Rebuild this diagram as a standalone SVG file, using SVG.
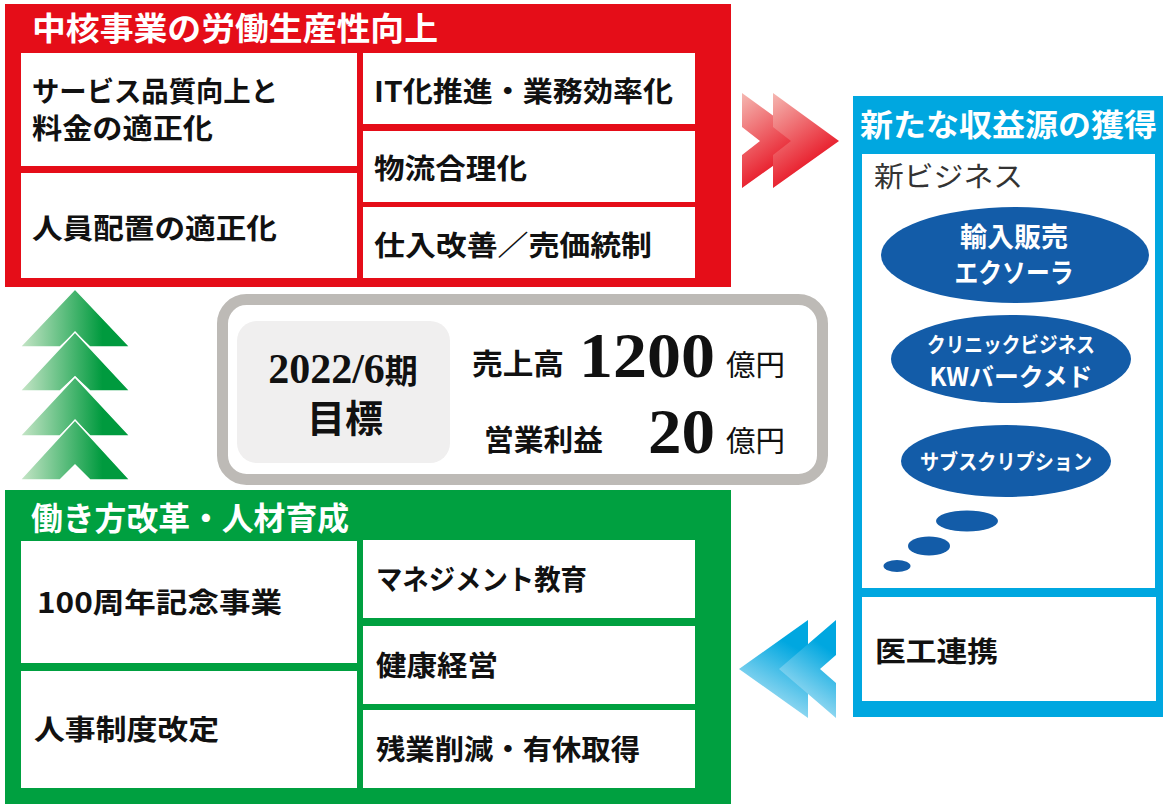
<svg xmlns="http://www.w3.org/2000/svg" width="1163" height="804" viewBox="0 0 1163 804">
<defs>
<linearGradient id="gRed" x1="0" y1="0" x2="0.5" y2="1"><stop offset="0" stop-color="#f5b8b2"/><stop offset="1" stop-color="#e60012"/></linearGradient>
<linearGradient id="gGreen" x1="0" y1="0" x2="1" y2="0"><stop offset="0" stop-color="#c8e6c8"/><stop offset="0.75" stop-color="#009a3e"/></linearGradient>
<linearGradient id="gBlue" x1="0.7" y1="0" x2="0.3" y2="1"><stop offset="0.2" stop-color="#00a7e0"/><stop offset="1" stop-color="#c6e9f7"/></linearGradient>
<style>
.jp{font-family:"Noto Sans CJK JP","Noto Sans",sans-serif;font-weight:700}
.jpr{font-family:"Noto Sans CJK JP","Noto Sans",sans-serif;font-weight:400}
.ser{font-family:"Liberation Serif",serif;font-weight:700}
.cell{fill:#fff}
.t{font-size:28px;fill:#111}
.ttl{font-size:32px;fill:#fff}
.ell{fill:#135ca8}
.et{fill:#fff;text-anchor:middle}
</style>
</defs>
<rect width="1163" height="804" fill="#fff"/>

<g id="core">
<rect x="5" y="4" width="726" height="283" fill="#e50d18"/>
<text class="jp ttl" x="32" y="40" font-size="33" textLength="406" lengthAdjust="spacingAndGlyphs">中核事業の労働生産性向上</text>
<g id="core-service"><rect class="cell" x="21" y="53" width="336" height="113"/>
<text class="jp t" x="32" y="102" font-size="27" textLength="246" lengthAdjust="spacingAndGlyphs">サービス品質向上と</text>
<text class="jp t" x="32" y="139" font-size="27" textLength="181" lengthAdjust="spacingAndGlyphs">料金の適正化</text></g>
<g id="core-staff"><rect class="cell" x="21" y="173" width="336" height="105"/>
<text class="jp t" x="32" y="239" textLength="245" lengthAdjust="spacingAndGlyphs">人員配置の適正化</text></g>
<g id="core-it"><rect class="cell" x="363" y="53" width="332" height="71"/>
<text class="jp t" x="374" y="102" textLength="299" lengthAdjust="spacingAndGlyphs">IT化推進・業務効率化</text></g>
<g id="core-logi"><rect class="cell" x="363" y="131" width="332" height="71"/>
<text class="jp t" x="374" y="179" textLength="153" lengthAdjust="spacingAndGlyphs">物流合理化</text></g>
<g id="core-purchase"><rect class="cell" x="363" y="207" width="332" height="71"/>
<text class="jp t" x="374" y="256" textLength="278" lengthAdjust="spacingAndGlyphs">仕入改善／売価統制</text></g>
</g>

<g id="work">
<rect x="5" y="490" width="726" height="314" fill="#00a040"/>
<text class="jp ttl" x="31" y="530" textLength="318" lengthAdjust="spacingAndGlyphs">働き方改革・人材育成</text>
<g id="work-100"><rect class="cell" x="21" y="541" width="336" height="122"/>
<text class="jp t" x="37" y="613" textLength="245" lengthAdjust="spacingAndGlyphs">100周年記念事業</text></g>
<g id="work-hr"><rect class="cell" x="21" y="671" width="336" height="117"/>
<text class="jp t" x="34" y="740" textLength="185" lengthAdjust="spacingAndGlyphs">人事制度改定</text></g>
<g id="work-mgmt"><rect class="cell" x="363" y="540" width="332" height="78"/>
<text class="jp t" x="376" y="590" textLength="211" lengthAdjust="spacingAndGlyphs">マネジメント教育</text></g>
<g id="work-health"><rect class="cell" x="363" y="626" width="332" height="78"/>
<text class="jp t" x="376" y="676" textLength="122" lengthAdjust="spacingAndGlyphs">健康経営</text></g>
<g id="work-overtime"><rect class="cell" x="363" y="710" width="332" height="78"/>
<text class="jp t" x="376" y="760" textLength="264" lengthAdjust="spacingAndGlyphs">残業削減・有休取得</text></g>
</g>

<g id="new-revenue">
<rect x="853" y="96" width="310" height="621" fill="#00a7e0"/>
<text class="jp" x="860" y="136" font-size="31" fill="#fff" textLength="297" lengthAdjust="spacingAndGlyphs">新たな収益源の獲得</text>
<rect class="cell" x="862" y="154" width="293" height="434"/>
<text class="jpr" x="874" y="187" font-size="28" fill="#333" textLength="149" lengthAdjust="spacingAndGlyphs">新ビジネス</text>
<g id="biz-import"><ellipse class="ell" cx="1015" cy="255" rx="134" ry="48"/>
<text class="jp et" x="1014" y="247" font-size="27">輸入販売</text>
<text class="jp et" x="1014" y="283" font-size="27" textLength="119" lengthAdjust="spacingAndGlyphs">エクソーラ</text></g>
<g id="biz-clinic"><ellipse class="ell" cx="1011" cy="359" rx="120" ry="44"/>
<text class="jp et" x="1011" y="352" font-size="21" textLength="168" lengthAdjust="spacingAndGlyphs">クリニックビジネス</text>
<text class="jp et" x="1011" y="386" font-size="25" textLength="163" lengthAdjust="spacingAndGlyphs">KWバークメド</text></g>
<g id="biz-sub"><ellipse class="ell" cx="1006" cy="461" rx="105" ry="36"/>
<text class="jp et" x="1006" y="469" font-size="21" textLength="172" lengthAdjust="spacingAndGlyphs">サブスクリプション</text></g>
<ellipse class="ell" cx="967" cy="521" rx="31" ry="10.5"/>
<ellipse class="ell" cx="929" cy="546" rx="21" ry="9.5"/>
<ellipse class="ell" cx="897" cy="566" rx="13.5" ry="6"/>
<g id="med-eng"><rect class="cell" x="862" y="597" width="294" height="104"/>
<text class="jp t" x="875" y="662" font-size="29" textLength="123" lengthAdjust="spacingAndGlyphs">医工連携</text></g>
</g>

<g id="target">
<rect x="222.5" y="299.5" width="600" height="180" rx="24" fill="#fff" stroke="#bdbab6" stroke-width="11"/>
<rect x="237" y="321" width="213" height="142" rx="20" fill="#f0efef"/>
<text x="343" y="383" text-anchor="middle" fill="#111"><tspan class="ser" font-size="42">2022/6</tspan><tspan class="jp" font-size="33">期</tspan></text>
<text class="jp" x="345" y="432" font-size="38" text-anchor="middle" fill="#111">目標</text>
<text class="jp" x="472" y="375" font-size="29" fill="#111" textLength="92" lengthAdjust="spacingAndGlyphs">売上高</text>
<text class="ser" x="579" y="377" font-size="64" fill="#111" textLength="136" lengthAdjust="spacingAndGlyphs">1200</text>
<text class="jpr" x="726" y="376" font-size="29" fill="#111" textLength="59" lengthAdjust="spacingAndGlyphs">億円</text>
<text class="jp" x="484" y="451" font-size="29" fill="#111" textLength="119" lengthAdjust="spacingAndGlyphs">営業利益</text>
<text class="ser" x="648" y="453" font-size="64" fill="#111" textLength="67" lengthAdjust="spacingAndGlyphs">20</text>
<text class="jpr" x="726" y="452" font-size="29" fill="#111" textLength="59" lengthAdjust="spacingAndGlyphs">億円</text>
</g>

<g id="connectors">
<g id="arrow-red" fill="url(#gRed)">
<polygon points="742,93 808,141 742,188 742,155 760,141 742,127"/>
<polygon points="773,93 839,141 773,188 773,155 791,141 773,127"/>
</g>
<g id="arrow-blue" fill="url(#gBlue)">
<polygon points="808,620 739,669 808,718"/>
<polygon points="836,620 779,669 836,718 836,683 820,669 836,655"/>
</g>
<g id="arrow-green" fill="url(#gGreen)" stroke="#fff" stroke-width="1.5">
<polygon points="75,289 130,347 90,347 75,333 60,347 20,347"/>
<polygon points="75,332 130,391 90,391 75,377 60,391 20,391"/>
<polygon points="75,377 130,436 90,436 75,421 60,436 20,436"/>
<polygon points="75,420 130,480 90,480 75,465 60,480 20,480"/>
</g>
</g>
</svg>
